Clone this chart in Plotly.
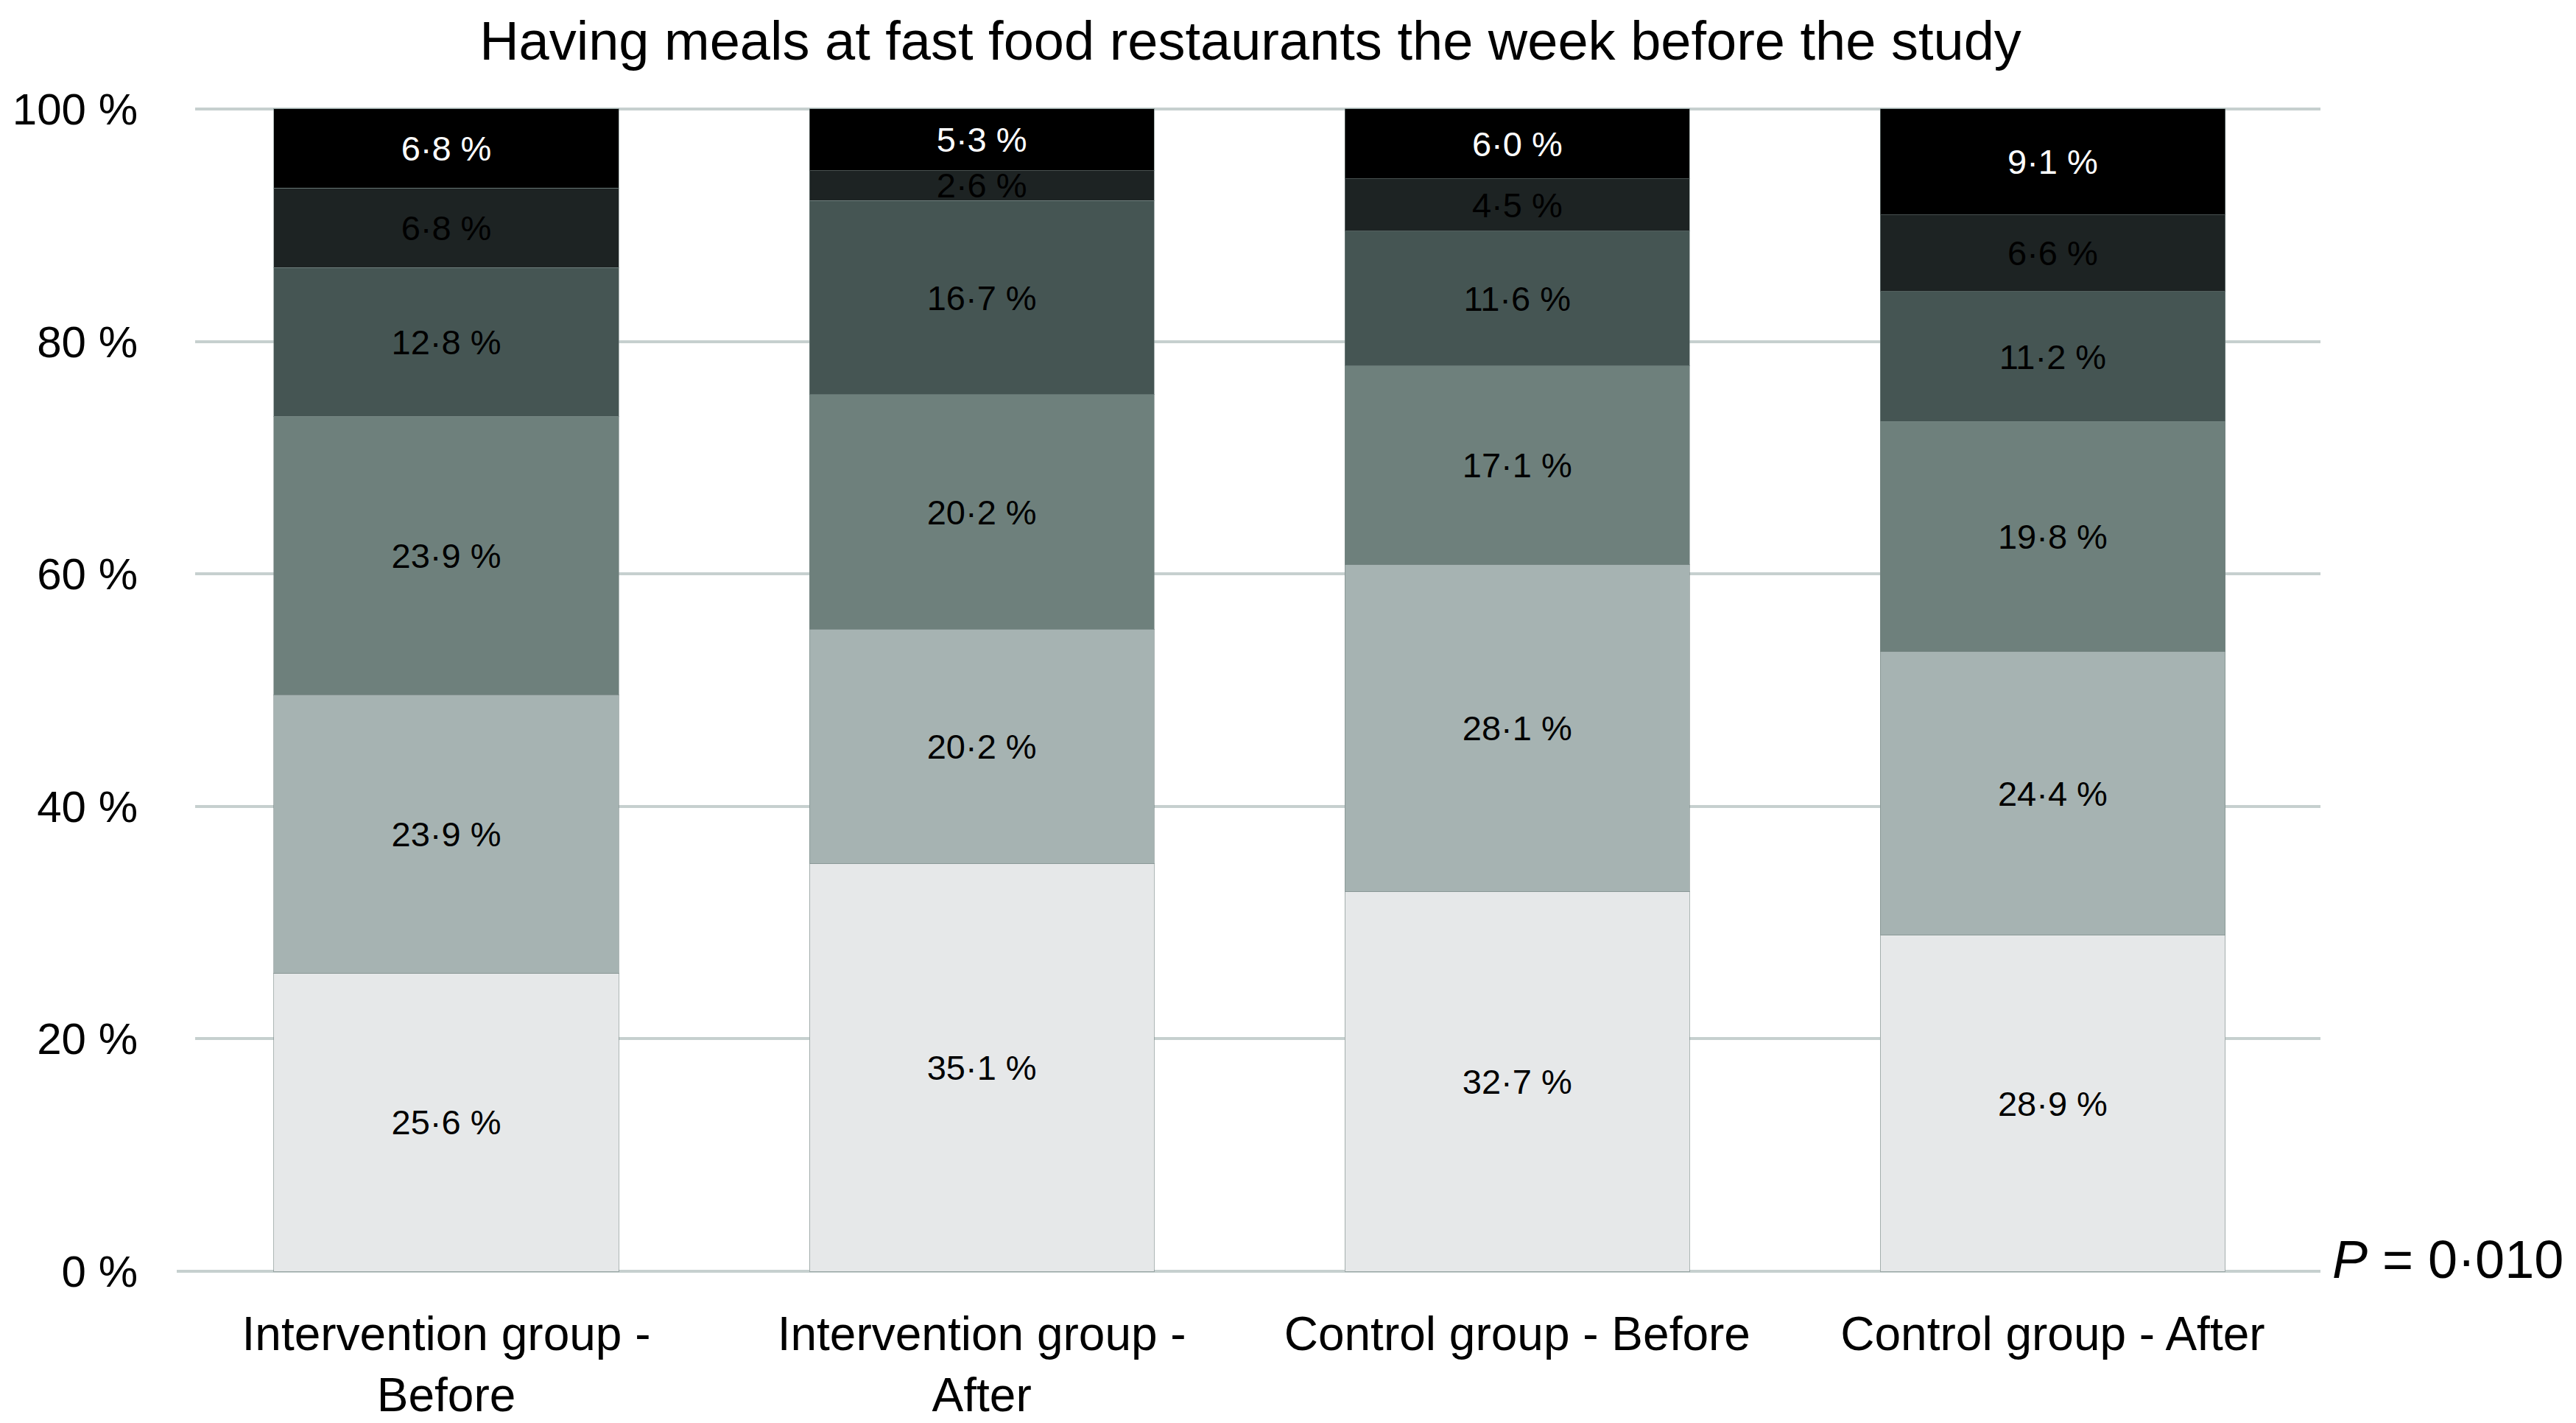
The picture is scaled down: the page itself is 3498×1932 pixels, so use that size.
import plotly.graph_objects as go

# Gruppen (x-Achse)
gruppen = ['Intervention group -<br>Before', 'Intervention group -<br>After',
           'Control group - Before', 'Control group - After']

# Anteile je Kategorie, von unten nach oben
stufe1 = [25.6, 35.1, 32.7, 28.9]
stufe2 = [23.9, 20.2, 28.1, 24.4]
stufe3 = [23.9, 20.2, 17.1, 19.8]
stufe4 = [12.8, 16.7, 11.6, 11.2]
stufe5 = [6.8, 2.6, 4.5, 6.6]
stufe6 = [6.8, 5.3, 6.0, 9.1]

y_ticks = [0, 20, 40, 60, 80, 100]
y_ticktext = ['0 %', '20 %', '40 %', '60 %', '80 %', '100 %']

farben = ['#e6e8e9', '#a6b3b2', '#6e807c', '#455553', '#1d2323', '#000000']
textfarben = ['black', 'black', 'black', 'black', 'black', 'white']

def label(v):
    return f'{v:.1f} %'.replace('.', '·')

fig = go.Figure()
for werte, farbe, tf in zip([stufe1, stufe2, stufe3, stufe4, stufe5, stufe6], farben, textfarben):
    fig.add_trace(go.Bar(
        x=gruppen, y=werte,
        marker=dict(color=farbe, line=dict(color='rgba(120,135,133,0.6)', width=1)),
        text=[label(v) for v in werte],
        textposition='inside', insidetextanchor='middle', textangle=0,
        textfont=dict(color=tf, size=47, family='Liberation Sans'),
        showlegend=False,
    ))

fig.update_layout(
    barmode='stack',
    barnorm='percent',
    bargap=0.356,
    width=3498, height=1932,
    margin=dict(l=257, r=355, t=136, b=210),
    paper_bgcolor='white', plot_bgcolor='white',
    font=dict(family='Liberation Sans', color='black'),
    uniformtext=dict(minsize=47, mode='show'),
    title=dict(text='Having meals at fast food restaurants the week before the study',
               x=1690 / 3498, xref='container', xanchor='center',
               y=1 - 47 / 1932, yanchor='middle',
               font=dict(size=74, color='black')),
)

fig.update_yaxes(
    range=[-0.25, 100.25], tickvals=y_ticks, ticktext=y_ticktext,
    tickfont=dict(size=60), ticklabelstandoff=77, automargin=False,
    showgrid=True, gridcolor='#c6d0cf', gridwidth=4,
    zeroline=False, showline=False, ticks='',
)
fig.update_xaxes(
    range=[-0.469, 3.5], tickfont=dict(size=64), automargin=False,
    ticklabelstandoff=38, showline=False, ticks='',
)

# Grundlinie reicht etwas weiter nach links als die Gitterlinien
fig.add_shape(type='line', xref='paper', yref='y', x0=-25 / 2886, x1=1, y0=0, y1=0,
              line=dict(color='#c6d0cf', width=4), layer='below')

fig.add_annotation(
    text='<i>P</i> = 0·010', xref='paper', yref='y',
    x=(3157 - 257) / 2886, y=1, xanchor='left', yanchor='middle',
    showarrow=False, font=dict(size=72, color='black'),
)

fig.write_html('out.html')
